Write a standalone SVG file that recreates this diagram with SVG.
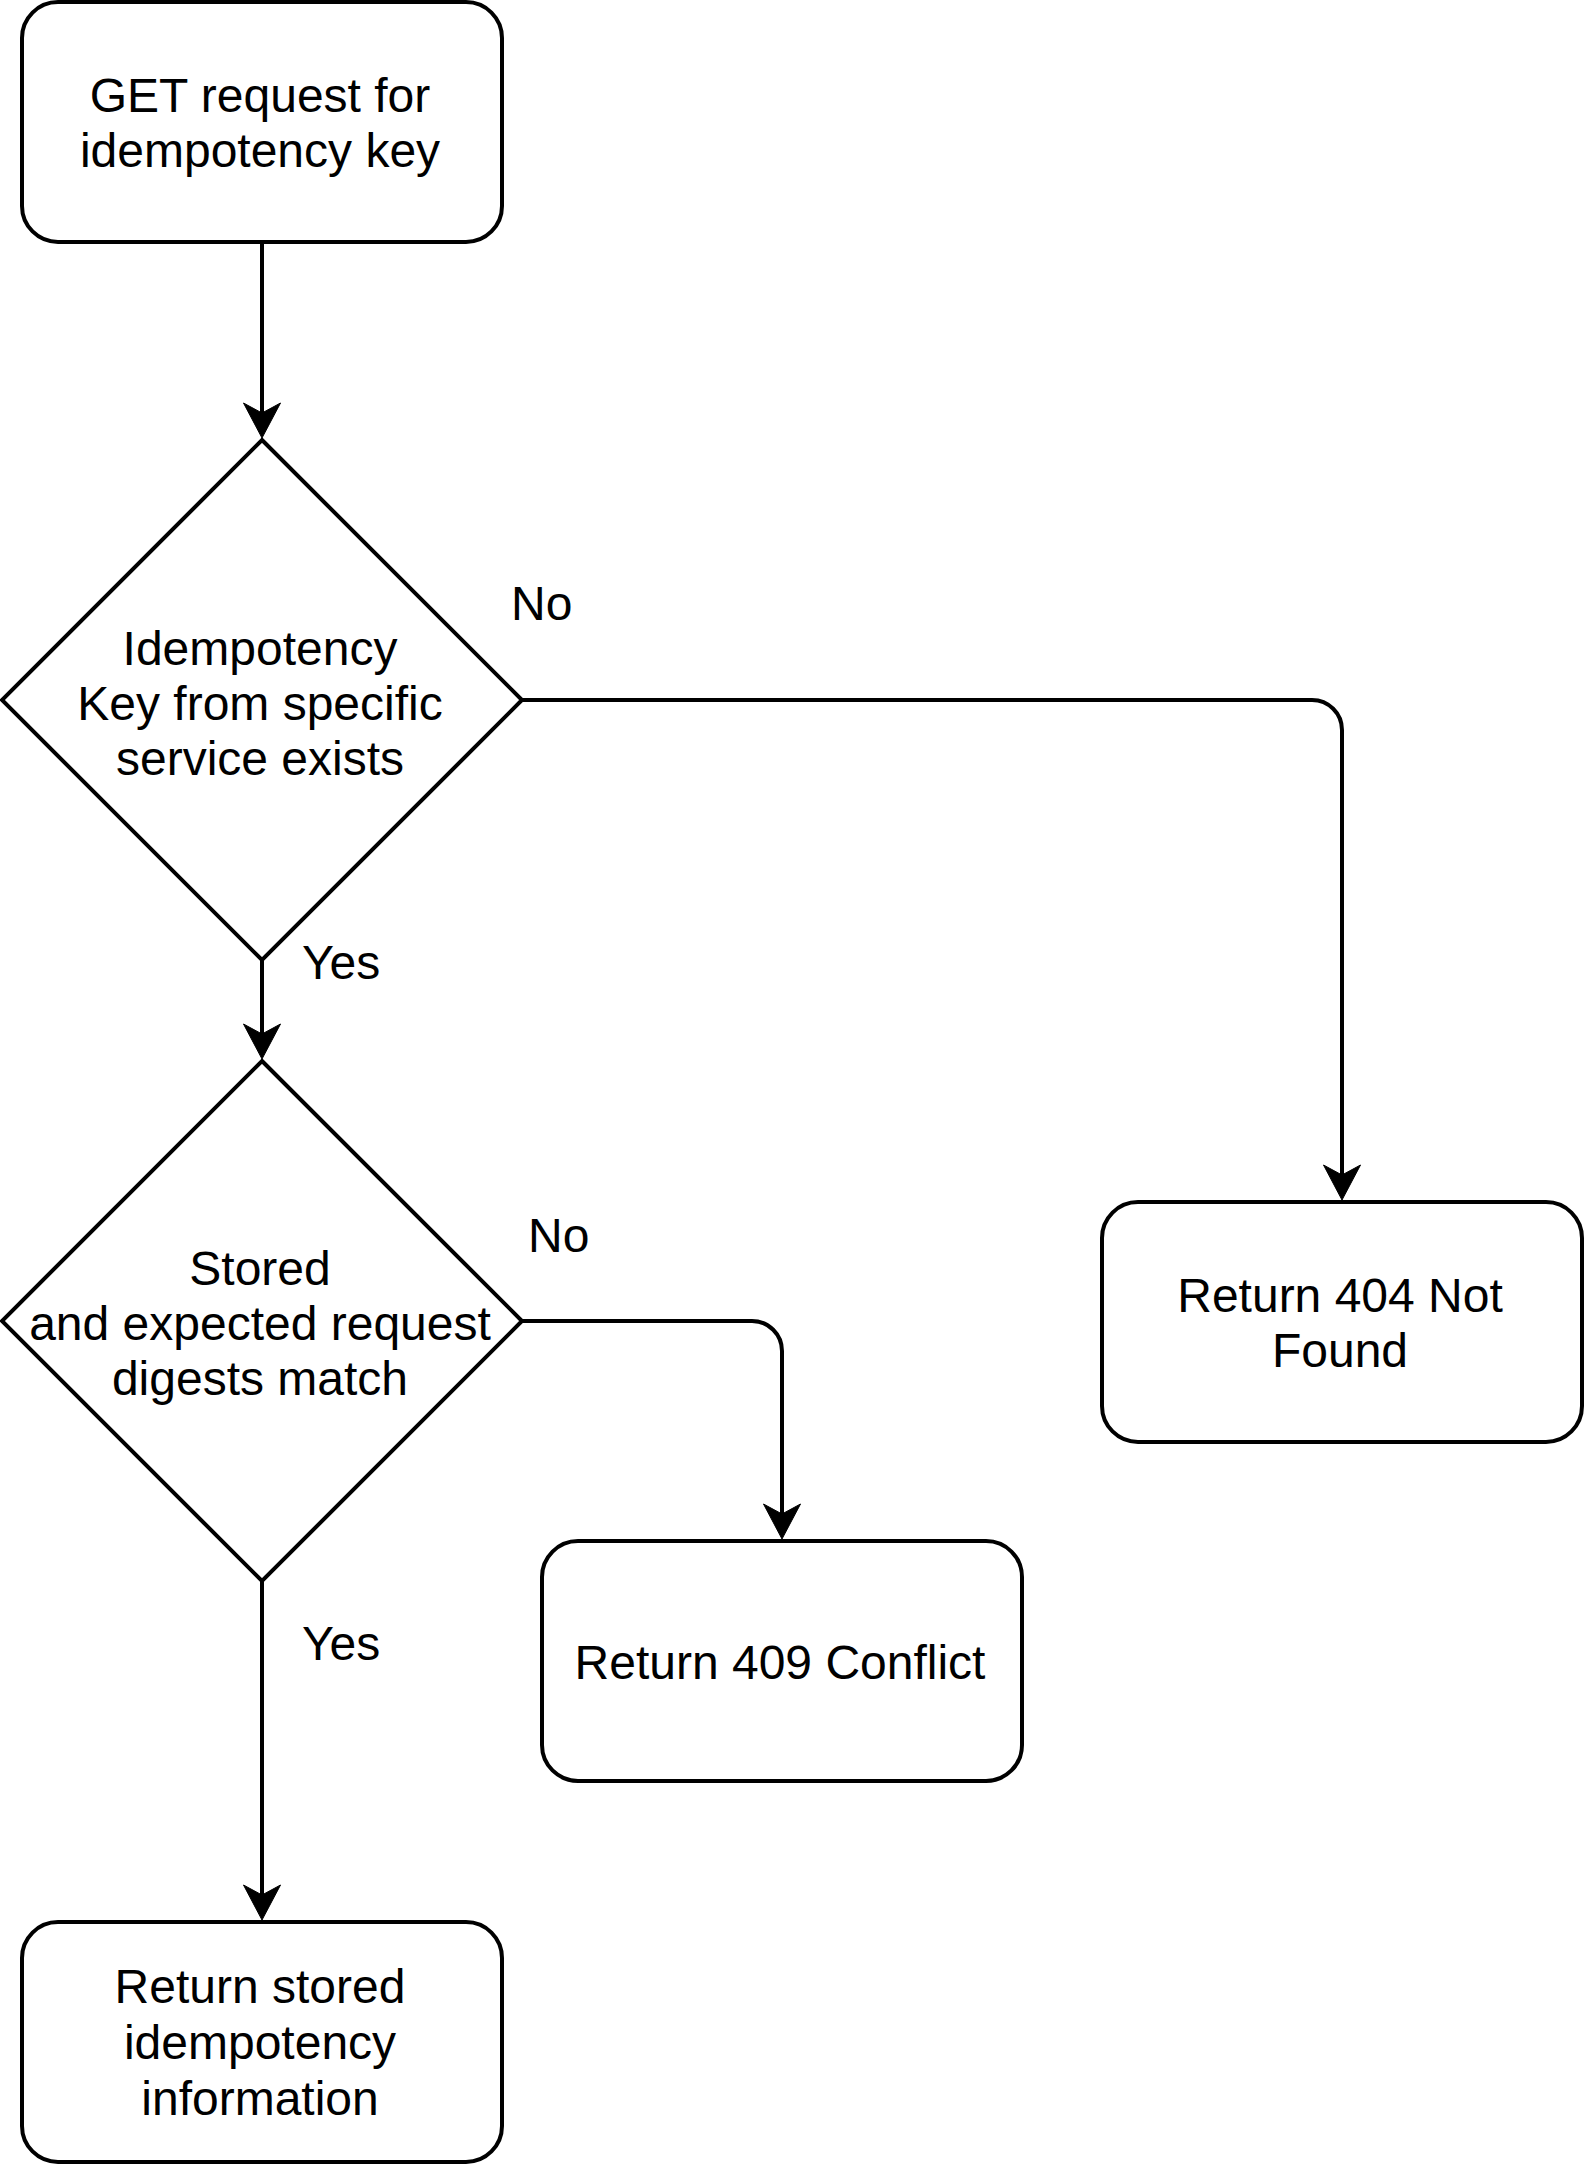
<svg xmlns="http://www.w3.org/2000/svg" width="1584" height="2164" viewBox="0 0 1584 2164">
<style>
.shape{fill:#fff;stroke:#000;stroke-width:4}
.edge{fill:none;stroke:#000;stroke-width:4}
text{font-family:"Liberation Sans",Arial,Helvetica,sans-serif;font-size:48px;fill:#000}
.c{text-anchor:middle}
</style>
<defs>
<marker id="arrow" markerUnits="userSpaceOnUse" markerWidth="40" markerHeight="40" viewBox="-12 -20 40 40" refX="0" refY="0" orient="auto">
<path d="M25,0 L-10,-18.5 L0,0 L-10,18.5 Z" fill="#000" stroke="#000" stroke-width="1" stroke-linejoin="miter"/>
</marker>
</defs>
<rect width="1584" height="2164" fill="#fff"/>
<g id="connectors">
<path class="edge" d="M262,242 V413" marker-end="url(#arrow)"/>
<path class="edge" d="M522,700 H1312 A30,30 0 0 1 1342,730 V1175" marker-end="url(#arrow)"/>
<path class="edge" d="M262,960 V1034" marker-end="url(#arrow)"/>
<path class="edge" d="M522,1321 H752 A30,30 0 0 1 782,1351 V1514" marker-end="url(#arrow)"/>
<path class="edge" d="M262,1581 V1895" marker-end="url(#arrow)"/>
<text x="511" y="620">No</text>
<text x="302" y="979">Yes</text>
<text x="528" y="1252">No</text>
<text x="302" y="1660">Yes</text>
</g>
<g id="start">
<rect class="shape" x="22" y="2" width="480" height="240" rx="36" ry="36"/>
<text class="c" x="260" y="112">GET request for</text>
<text class="c" x="260" y="167">idempotency key</text>
</g>
<g id="decision-key-exists">
<polygon class="shape" points="262,440 522,700 262,960 2,700"/>
<text class="c" x="260" y="665">Idempotency</text>
<text class="c" x="260" y="720">Key from specific</text>
<text class="c" x="260" y="775">service exists</text>
</g>
<g id="not-found">
<rect class="shape" x="1102" y="1202" width="480" height="240" rx="36" ry="36"/>
<text class="c" x="1340" y="1312">Return 404 Not</text>
<text class="c" x="1340" y="1367">Found</text>
</g>
<g id="decision-digests">
<polygon class="shape" points="262,1061 522,1321 262,1581 2,1321"/>
<text class="c" x="260" y="1285">Stored</text>
<text class="c" x="260" y="1340">and expected request</text>
<text class="c" x="260" y="1395">digests match</text>
</g>
<g id="conflict">
<rect class="shape" x="542" y="1541" width="480" height="240" rx="36" ry="36"/>
<text class="c" x="780" y="1679">Return 409 Conflict</text>
</g>
<g id="return-stored">
<rect class="shape" x="22" y="1922" width="480" height="240" rx="36" ry="36"/>
<text class="c" x="260" y="2003">Return stored</text>
<text class="c" x="260" y="2059">idempotency</text>
<text class="c" x="260" y="2115">information</text>
</g>
</svg>
